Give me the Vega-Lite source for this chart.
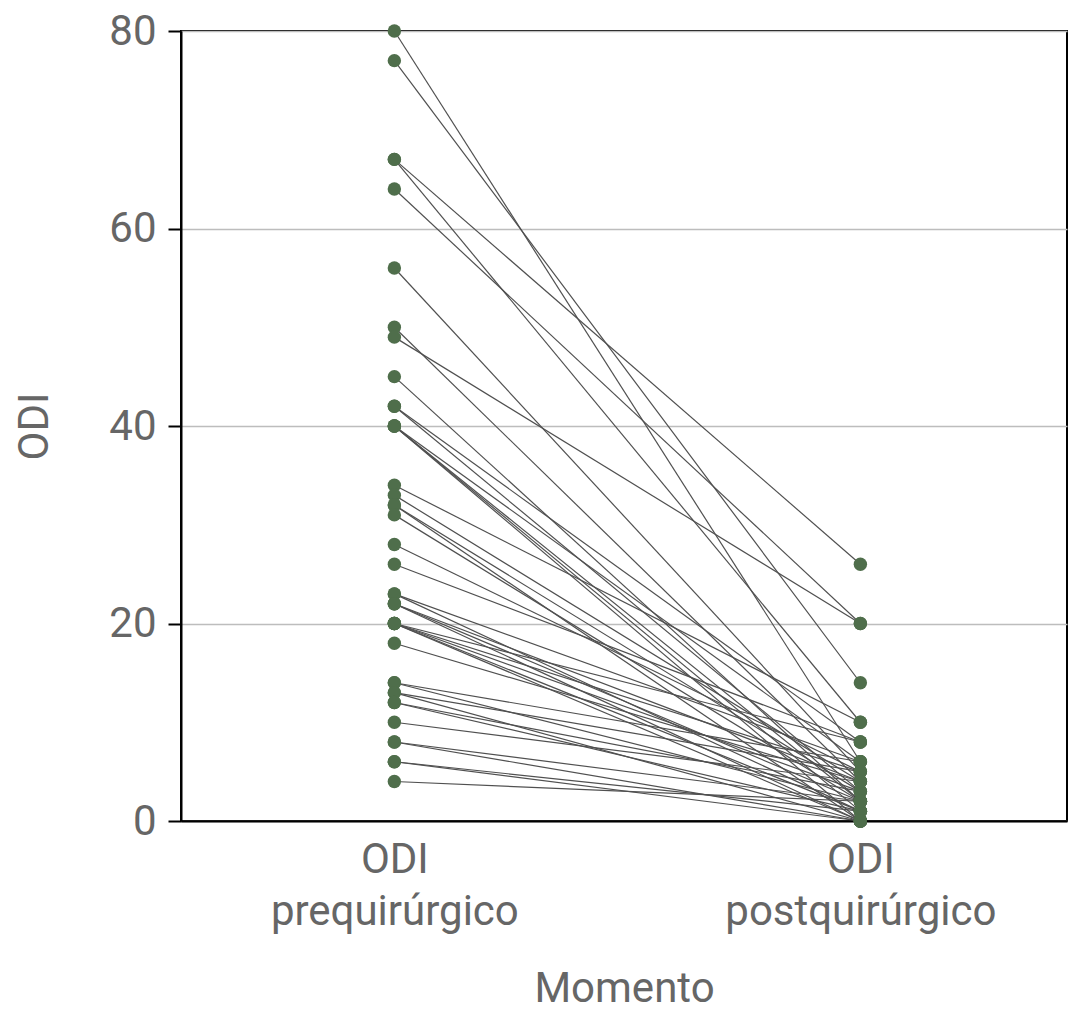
{
  "$schema": "https://vega.github.io/schema/vega-lite/v6.json",
  "width": 886,
  "height": 790,
  "autosize": {"type": "none"},
  "padding": {"left": 181, "top": 31, "right": 2, "bottom": 203},
  "background": "white",
  "config": {
    "font": "Roboto, sans-serif",
    "view": {"stroke": "black", "strokeWidth": 2}
  },
  "data": {
    "values": [
      {"paciente": 1, "pre": 80, "post": 6},
      {"paciente": 2, "pre": 77, "post": 14},
      {"paciente": 3, "pre": 67, "post": 26},
      {"paciente": 4, "pre": 67, "post": 10},
      {"paciente": 5, "pre": 64, "post": 20},
      {"paciente": 6, "pre": 56, "post": 5},
      {"paciente": 7, "pre": 50, "post": 4},
      {"paciente": 8, "pre": 49, "post": 20},
      {"paciente": 9, "pre": 45, "post": 2},
      {"paciente": 10, "pre": 42, "post": 8},
      {"paciente": 11, "pre": 42, "post": 3},
      {"paciente": 12, "pre": 40, "post": 6},
      {"paciente": 13, "pre": 40, "post": 2},
      {"paciente": 14, "pre": 40, "post": 0},
      {"paciente": 15, "pre": 40, "post": 1},
      {"paciente": 16, "pre": 34, "post": 10},
      {"paciente": 17, "pre": 33, "post": 4},
      {"paciente": 18, "pre": 32, "post": 3},
      {"paciente": 19, "pre": 32, "post": 0},
      {"paciente": 20, "pre": 31, "post": 2},
      {"paciente": 21, "pre": 28, "post": 5},
      {"paciente": 22, "pre": 26, "post": 8},
      {"paciente": 23, "pre": 23, "post": 6},
      {"paciente": 24, "pre": 23, "post": 1},
      {"paciente": 25, "pre": 22, "post": 4},
      {"paciente": 26, "pre": 22, "post": 2},
      {"paciente": 27, "pre": 22, "post": 0},
      {"paciente": 28, "pre": 20, "post": 8},
      {"paciente": 29, "pre": 20, "post": 5},
      {"paciente": 30, "pre": 20, "post": 3},
      {"paciente": 31, "pre": 20, "post": 0},
      {"paciente": 32, "pre": 20, "post": 1},
      {"paciente": 33, "pre": 18, "post": 4},
      {"paciente": 34, "pre": 14, "post": 6},
      {"paciente": 35, "pre": 14, "post": 2},
      {"paciente": 36, "pre": 13, "post": 5},
      {"paciente": 37, "pre": 13, "post": 0},
      {"paciente": 38, "pre": 12, "post": 3},
      {"paciente": 39, "pre": 12, "post": 1},
      {"paciente": 40, "pre": 10, "post": 4},
      {"paciente": 41, "pre": 8, "post": 2},
      {"paciente": 42, "pre": 8, "post": 0},
      {"paciente": 43, "pre": 6, "post": 1},
      {"paciente": 44, "pre": 6, "post": 0},
      {"paciente": 45, "pre": 4, "post": 2}
    ]
  },
  "transform": [{"fold": ["pre", "post"], "as": ["momento", "odi"]}],
  "encoding": {
    "x": {
      "field": "momento",
      "type": "nominal",
      "title": "Momento",
      "scale": {"type": "point", "domain": ["pre", "post"], "padding": 0.4506, "align": 0.508},
      "axis": {
        "labelExpr": "datum.value == 'pre' ? ['ODI', 'prequirúrgico'] : ['ODI', 'postquirúrgico']",
        "labelAngle": 0,
        "labelFontSize": 42,
        "labelColor": "#666666",
        "labelLineHeight": 52,
        "labelPadding": 18,
        "labelLimit": 0,
        "ticks": false,
        "domainColor": "black",
        "domainWidth": 2,
        "titleFontSize": 42,
        "titleFontWeight": "normal",
        "titleColor": "#666666",
        "titlePadding": 36,
        "grid": false
      }
    },
    "y": {
      "field": "odi",
      "type": "quantitative",
      "title": "ODI",
      "scale": {"domain": [0, 80], "nice": false, "zero": true},
      "axis": {
        "values": [0, 20, 40, 60, 80],
        "labelFontSize": 42,
        "labelColor": "#666666",
        "labelPadding": 12,
        "tickSize": 13,
        "tickWidth": 2,
        "tickColor": "black",
        "domainColor": "black",
        "domainWidth": 2,
        "grid": true,
        "gridColor": "#bdbdbd",
        "gridWidth": 1.5,
        "titleFontSize": 42,
        "titleFontWeight": "normal",
        "titleColor": "#666666",
        "titlePadding": 52
      }
    }
  },
  "layer": [
    {
      "mark": {"type": "line", "color": "#505050", "strokeWidth": 1.2},
      "encoding": {"detail": {"field": "paciente", "type": "nominal"}}
    },
    {
      "mark": {"type": "circle", "size": 180, "opacity": 1, "color": "#4f6e4b"}
    }
  ]
}
